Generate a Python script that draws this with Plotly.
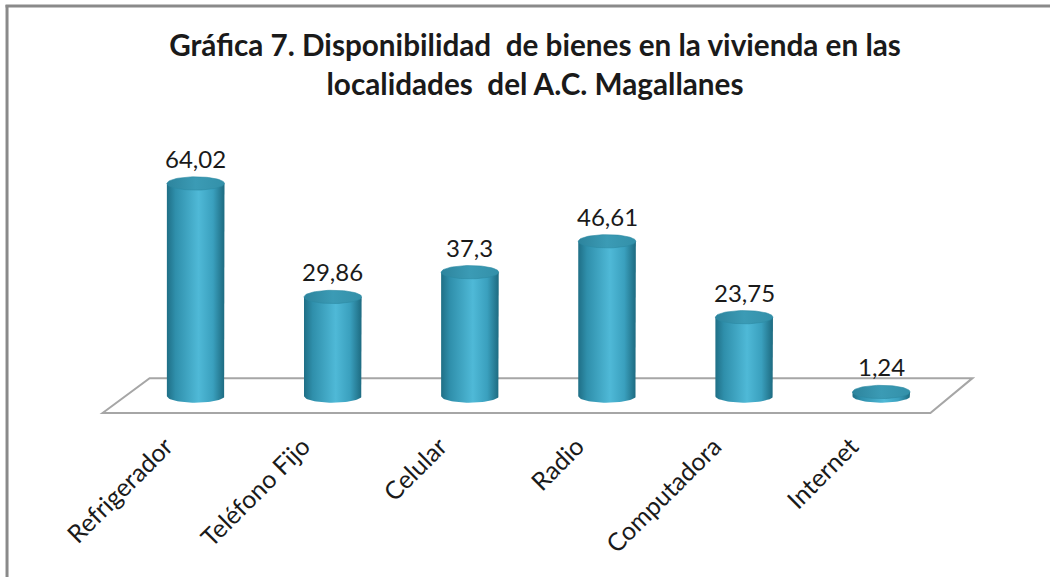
import numpy as np
import plotly.graph_objects as go

categories = ["Refrigerador", "Teléfono Fijo", "Celular", "Radio", "Computadora", "Internet"]
values = [64.02, 29.86, 37.3, 46.61, 23.75, 1.24]
value_labels = [str(v).replace(".", ",") for v in values]
title_text = "<b>Gráfica 7. Disponibilidad  de bienes en la vivienda en las<br>localidades  del A.C. Magallanes</b>"

W, H = 1050, 577
L, R, T, B = 86.4, 59.4, 147, 161
xr = [-0.8, 5.8]
yr = [-6, 75]
pw = W - L - R
ph = H - T - B

hw = 0.21       # half width of cylinder (x units)
eh = 2.0        # half height of ellipse (y units)
theta = np.linspace(0, np.pi, 40)

body_scale = [[0, "#1f6f86"], [0.15, "#2f8fab"], [0.55, "#4fb9d7"], [0.8, "#3aa0be"], [1, "#1d6a80"]]
top_scale = [[0, "#2d849d"], [0.5, "#3b9bb5"], [1, "#3390a9"]]

fig = go.Figure()
FONT = "Lato, Calibri, sans-serif"

for i, v in enumerate(values):
    bx = np.concatenate([[i - hw, i - hw, i + hw, i + hw], i + hw * np.cos(theta)])
    by = np.concatenate([[0, v, v, 0], -eh * np.sin(theta)])
    fig.add_trace(go.Scatter(
        x=bx, y=by, mode="lines", fill="toself", line=dict(width=0),
        fillgradient=dict(type="horizontal", colorscale=body_scale),
        hoverinfo="skip", showlegend=False))
    t2 = np.linspace(0, 2 * np.pi, 80)
    fig.add_trace(go.Scatter(
        x=i + hw * np.cos(t2), y=v + eh * np.sin(t2), mode="lines", fill="toself",
        line=dict(width=0.6, color="#2c8aa3"),
        fillgradient=dict(type="horizontal", colorscale=top_scale),
        hoverinfo="skip", showlegend=False))
    fig.add_annotation(x=i, y=v, text=value_labels[i], showarrow=False,
                       yanchor="middle", yshift=25,
                       font=dict(family=FONT, size=24, color="#1a1a1a"))

# floor parallelogram
fig.add_shape(type="path", xref="x", yref="y",
              path="M -0.679,-5.1 L -0.336,5.4 L 5.665,5.4 L 5.358,-5.1 Z",
              line=dict(color="#a6a6a6", width=2), fillcolor="white", layer="below")

def px2paper_x(px):
    return (px - L) / pw

def py2paper_y(py):
    return (H - B - py) / ph

fig.add_shape(type="line", xref="paper", yref="paper",
              x0=px2paper_x(6), x1=px2paper_x(1100), y0=py2paper_y(6), y1=py2paper_y(6),
              line=dict(color="#8a8a8a", width=3))
fig.add_shape(type="line", xref="paper", yref="paper",
              x0=px2paper_x(7.5), x1=px2paper_x(7.5), y0=py2paper_y(5), y1=py2paper_y(600),
              line=dict(color="#8a8a8a", width=3))

fig.update_layout(
    width=W, height=H,
    margin=dict(l=L, r=R, t=T, b=B, pad=0),
    paper_bgcolor="white", plot_bgcolor="white",
    title=dict(text=title_text, x=535 / W, xref="container", xanchor="center",
               y=1 - 56 / H, yref="container", yanchor="top",
               font=dict(family=FONT, size=29.7, color="#1a1a1a")),
    xaxis=dict(range=xr, tickmode="array", tickvals=list(range(len(categories))),
               ticktext=categories, tickangle=-45, showgrid=False, zeroline=False,
               showline=False, ticks="", ticklabelstandoff=10, ticklabelshift=-30,
               tickfont=dict(family=FONT, size=25, color="#1a1a1a"), fixedrange=True),
    yaxis=dict(range=yr, visible=False, showgrid=False, zeroline=False, fixedrange=True),
    showlegend=False,
)

fig.write_html("out.html", config={"displayModeBar": False},
               post_script="document.body.style.margin='0';document.body.style.overflow='hidden';")
